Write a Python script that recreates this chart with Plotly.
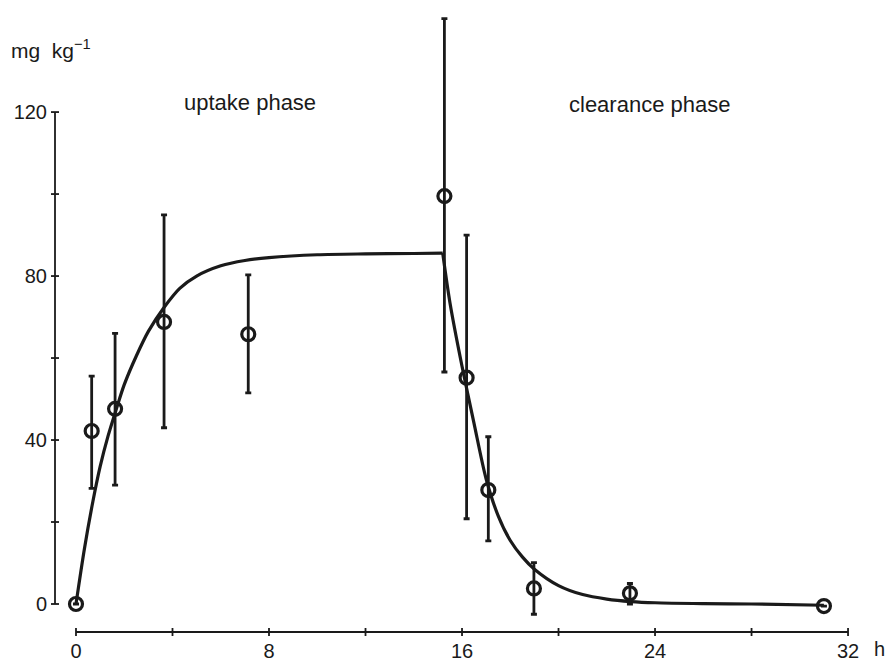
import plotly.graph_objects as go

# ---- data ----
time_h = [0, 0.65, 1.62, 3.65, 7.14, 15.27, 16.19, 17.09, 18.98, 22.96, 31.0]
conc = [0, 42.2, 47.6, 68.8, 65.8, 99.5, 55.2, 27.8, 3.8, 2.6, -0.5]
err_upper = [None, 55.6, 66.0, 94.9, 80.3, 142.8, 90.0, 40.8, 10.1, 5.0, None]
err_lower = [None, 28.2, 29.0, 43.0, 51.5, 56.6, 20.8, 15.4, -2.5, 0.0, None]

uptake_t = [0, 0.35, 0.7, 1.0, 1.33, 1.67, 2.0, 2.5, 3.0, 3.67, 4.3, 5, 6, 7, 8, 10, 12, 14, 15.2]
uptake_c = [0, 13.5, 25, 33.5, 41, 47.5, 53.5, 60.5, 66.5, 72.5, 77, 80, 82.5, 83.8, 84.5, 85.2, 85.4, 85.5, 85.6]

clear_t = [15.2, 15.5, 16.0, 16.5, 17.0, 17.5, 18.0, 18.5, 19.0, 20.0, 21.0, 22.0, 23.0, 24.0, 26.0, 28.0, 31.0]
clear_c = [85.6, 73.5, 58.0, 44.0, 30.5, 21.5, 15.5, 11.5, 8.5, 4.5, 2.3, 1.2, 0.6, 0.3, 0.1, 0.0, -0.3]

x_ticks = [0, 8, 16, 24, 32]
x_minor = [4, 12, 20, 28]
y_ticks = [0, 40, 80, 120]
y_minor = [20, 60, 100]

plus = [None if u is None else u - c for u, c in zip(err_upper, conc)]
minus = [None if l is None else c - l for l, c in zip(err_lower, conc)]
plus = [0 if v is None else v for v in plus]
minus = [0 if v is None else v for v in minus]

INK = "#1a1a1a"
FONT = "Liberation Sans, Arial, Helvetica, sans-serif"

fig = go.Figure()

fig.add_trace(go.Scatter(x=uptake_t, y=uptake_c, mode="lines",
                         line=dict(color=INK, width=3.2, shape="spline", smoothing=0.8),
                         hoverinfo="skip", showlegend=False))
fig.add_trace(go.Scatter(x=clear_t, y=clear_c, mode="lines",
                         line=dict(color=INK, width=3.2, shape="spline", smoothing=0.8),
                         hoverinfo="skip", showlegend=False))
fig.add_trace(go.Scatter(
    x=time_h, y=conc, mode="markers",
    marker=dict(symbol="circle-open", size=13, color=INK, line=dict(width=3.2, color=INK)),
    error_y=dict(type="data", symmetric=False, array=plus, arrayminus=minus,
                 color=INK, thickness=2.8, width=3),
    showlegend=False))

# the page places the figure 8px in from the top-left corner
OFF = 8
W, H = 893 - OFF, 662 - OFF
ML, MR, MT, MB = 55 - OFF, 23, 10 - OFF, 30
PW = W - ML - MR
PH = H - MT - MB
XR = [-0.87, 32.91]
YR = [-6.83, 144.9]


def px_x(px):
    return (px - OFF - ML) / PW


def px_y(py):
    return (H - MB - (py - OFF)) / PH


shapes = []
# axis lines (detached, spanning tick range)
shapes.append(dict(type="line", xref="x", yref="paper", x0=0, x1=32, y0=0, y1=0,
                   line=dict(color=INK, width=1.8)))
shapes.append(dict(type="line", xref="paper", yref="y", x0=0, x1=0, y0=0, y1=120,
                   line=dict(color=INK, width=1.8)))
for v in x_ticks + x_minor:
    shapes.append(dict(type="line", xref="x", yref="paper", x0=v, x1=v,
                       y0=-4 / PH, y1=4 / PH, line=dict(color=INK, width=1.8)))
for v in y_ticks + y_minor:
    shapes.append(dict(type="line", xref="paper", yref="y", x0=-4 / PW, x1=4 / PW,
                       y0=v, y1=v, line=dict(color=INK, width=1.8)))

annotations = [
    dict(text="mg  kg<sup>−1</sup>", x=px_x(9), y=px_y(49), xref="paper", yref="paper",
         xanchor="left", yanchor="middle", showarrow=False, font=dict(size=21, color=INK)),
    dict(text="uptake phase", x=px_x(250), y=px_y(103), xref="paper", yref="paper",
         xanchor="center", yanchor="middle", showarrow=False, font=dict(size=22, color=INK)),
    dict(text="clearance phase", x=px_x(649), y=px_y(104), xref="paper", yref="paper",
         xanchor="center", yanchor="middle", showarrow=False, font=dict(size=22, color=INK)),
    dict(text="h", x=px_x(880), y=px_y(649), xref="paper", yref="paper",
         xanchor="center", yanchor="middle", showarrow=False, font=dict(size=20, color=INK)),
]

fig.update_layout(
    width=W, height=H,
    margin=dict(l=ML, r=MR, t=MT, b=MB, autoexpand=False),
    paper_bgcolor="white", plot_bgcolor="white",
    font=dict(family=FONT, size=20, color=INK),
    shapes=shapes, annotations=annotations,
    xaxis=dict(range=XR, tickvals=x_ticks, ticktext=[str(v) for v in x_ticks],
               showline=False, showgrid=False, zeroline=False, ticks="",
               automargin=False, ticklabelstandoff=5, tickfont=dict(size=20)),
    yaxis=dict(range=YR, tickvals=y_ticks, ticktext=[str(v) for v in y_ticks],
               showline=False, showgrid=False, zeroline=False, ticks="",
               automargin=False, ticklabelstandoff=7, tickfont=dict(size=20)),
)

fig.write_html("out.html")
